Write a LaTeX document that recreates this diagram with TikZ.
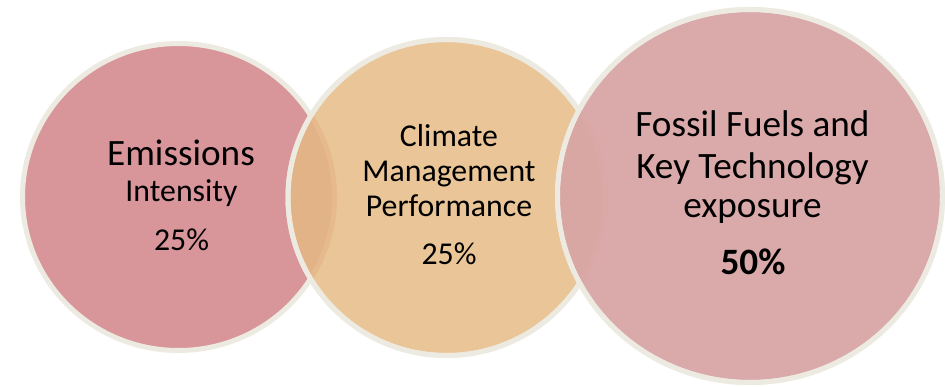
\documentclass[tikz,border=0pt]{standalone}
\usepackage{fontspec}
\setmainfont{Carlito}
\definecolor{rim}{HTML}{EDEBE1}
\definecolor{cone}{HTML}{D8959A}
\definecolor{ctwo}{HTML}{EAC597}
\definecolor{cthree}{HTML}{DAA9AA}
\definecolor{ovtwelve}{HTML}{E2B387}
\definecolor{bandtwelve}{HTML}{E6BA8D}
\definecolor{ovtwothree}{HTML}{D8A6A3}
\definecolor{bandtwothree}{HTML}{DAA8A6}
\begin{document}
\begin{tikzpicture}[x=1pt,y=-1pt,
  ring/.style={draw=rim, line width=5pt},
  big/.style={anchor=base, inner sep=0pt, font=\fontsize{37.2}{41}\selectfont},
  mid/.style={anchor=base, inner sep=0pt, font=\fontsize{31.8}{35}\selectfont}]
\useasboundingbox (0,0) rectangle (945,387);
% circle 1
\path[fill=cone, ring] (178.5,197) ellipse [x radius=156, y radius=153.5];
% circle 2
\path[fill=ctwo, ring] (446.5,197.5) ellipse [x radius=158.5, y radius=158];
\begin{scope}
  \clip (446.5,197.5) ellipse [x radius=156, y radius=155.5];
  \path[fill=ovtwelve, draw=bandtwelve, line width=5pt] (178.5,197) ellipse [x radius=156, y radius=153.5];
\end{scope}
\path[ring] (446.5,197.5) ellipse [x radius=158.5, y radius=158];
% circle 3
\path[fill=cthree, ring] (750,196) ellipse [x radius=192.5, y radius=186.5];
\begin{scope}
  \clip (750,196) ellipse [x radius=190, y radius=184];
  \path[fill=ovtwothree, draw=bandtwothree, line width=5pt] (446.5,197.5) ellipse [x radius=158.5, y radius=158];
\end{scope}
\path[ring] (750,196) ellipse [x radius=192.5, y radius=186.5];
% texts circle 1
\node[big] (emis) at (181,166) {Emissions};
\node[mid] (inten) at (181.5,202) {Intensity};
\node[mid] (pone) at (181.5,251) {25\%};
% texts circle 2
\node[mid] (clim) at (449,147) {Climate};
\node[mid] (mgmt) at (449,182) {Management};
\node[mid] (perf) at (449,217) {Performance};
\node[mid] (ptwo) at (449,265) {25\%};
% texts circle 3
\node[big] (foss) at (752.5,137) {Fossil Fuels and};
\node[big] (keyt) at (752.5,179) {Key Technology};
\node[big] (expo) at (752.5,218) {exposure};
\node[big, font=\fontsize{37.2}{41}\selectfont\bfseries] (pthree) at (753,275) {50\%};
\end{tikzpicture}
\end{document}
